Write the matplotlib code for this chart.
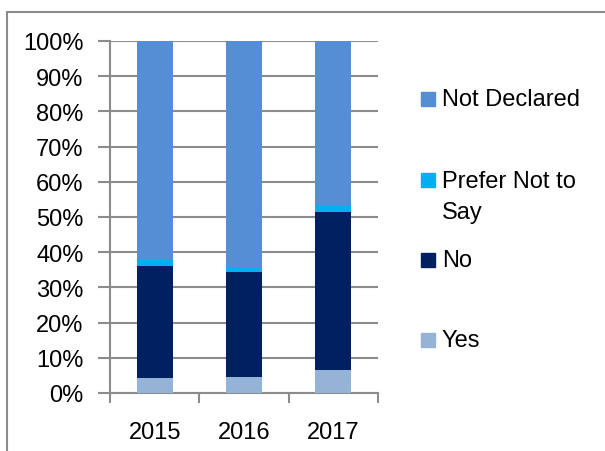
import matplotlib.pyplot as plt
from matplotlib.patches import Rectangle
import numpy as np

plt.rcParams['font.family'] = ['Liberation Sans', 'DejaVu Sans']

years = ['2015', '2016', '2017']
yes = [4.3, 4.6, 6.5]
no = [31.9, 29.9, 44.9]
prefer_not = [1.6, 1.3, 2.0]
not_declared = [62.2, 64.2, 46.6]

series = [('Yes', yes, '#95B3D7'),
          ('No', no, '#002060'),
          ('Prefer Not to\nSay', prefer_not, '#00B0F0'),
          ('Not Declared', not_declared, '#558ED5')]

grey = '#8C8C8C'
fs = 17

fig = plt.figure(figsize=(6.05, 4.52), dpi=100)
ax = fig.add_axes([110/605, 1-394/452, 268/605, 352/452])

x = np.arange(len(years))
bottom = np.zeros(len(years))
for name, vals, col in series:
    ax.bar(x, vals, width=0.4, bottom=bottom, color=col, zorder=3)
    bottom += np.array(vals)

ax.set_xlim(-0.5, 2.5)
ax.set_ylim(0, 100)
ax.set_yticks(np.arange(0, 101, 10))
ax.set_yticklabels([f'{v}%' for v in range(0, 101, 10)], fontsize=fs)
ax.yaxis.grid(True, color=grey, linewidth=1.5, zorder=0)
ax.tick_params(axis='y', length=9, width=1.5, color=grey, pad=10)

# category labels centred, tick marks between categories
ax.set_xticks(x)
ax.set_xticklabels(years, fontsize=fs)
ax.tick_params(axis='x', length=0, pad=20)
ax.set_xticks([-0.5, 0.5, 1.5, 2.5], minor=True)
ax.tick_params(axis='x', which='minor', length=7, width=1.5, color=grey)

for s in ['top', 'right']:
    ax.spines[s].set_visible(False)
for s in ['left', 'bottom']:
    ax.spines[s].set_color(grey)
    ax.spines[s].set_linewidth(1.5)

# legend drawn by hand, top to bottom (marker centre y in pixels)
leg_y = [100, 181, 261, 341]
for (name, vals, col), yy in zip(series[::-1], leg_y):
    fig.patches.append(Rectangle((421/605, 1-(yy+7)/452), 14/605, 14/452,
                                 color=col, transform=fig.transFigure))
    if '\n' in name:
        fig.text(442/605, 1-(yy-10)/452, name, fontsize=fs, va='top',
                 ha='left', linespacing=1.55)
    else:
        fig.text(442/605, 1-yy/452, name, fontsize=fs, va='center', ha='left')

# outer chart border
fig.patches.append(Rectangle((7/605, -0.1), 1.0, 1.1-13/452, fill=False,
                             edgecolor=grey, linewidth=1.5, transform=fig.transFigure))

fig.savefig('out.png', dpi=100)
